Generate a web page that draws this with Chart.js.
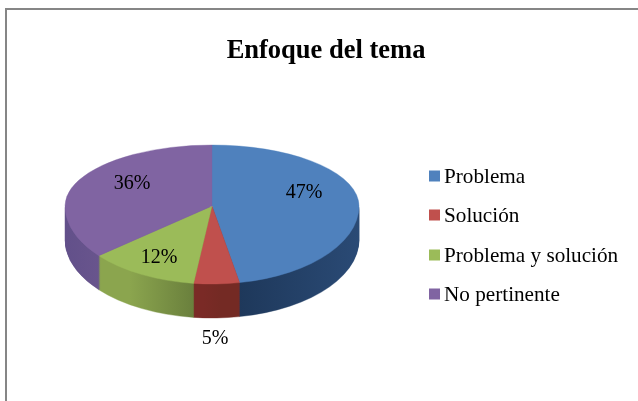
<!DOCTYPE html>
<html><head><meta charset="utf-8">
<script src="https://cdn.jsdelivr.net/npm/chart.js@4"></script>
<style>html,body{margin:0;padding:0;background:#fff}canvas{display:block}</style>
</head><body><div style="width:638px;height:401px"><canvas id="c" width="638" height="401"></canvas></div>
<script>
const titleText = 'Enfoque del tema';
const categories = ['Problema', 'Solución', 'Problema y solución', 'No pertinente'];
const shares = [47, 5, 12, 36];
const topColors = ['#4f81bd', '#c0504d', '#9bbb59', '#8064a2'];
const wallColors = [['#1c3556', '#2a4a75'], ['#7a2a26', '#742a24'], ['#8ba54e', '#657a3a'], ['#62508a', '#705a90']];
const wallSpans = [[0.52, 1], [0.47, 0.53], [0.22, 0.47], [0, 0.25]];
const labelSpots = [[304, 193], [215, 339], [159, 258], [132, 184]];
const legendRows = [176, 215, 255, 294];
const SERIF = '"Liberation Serif"';
const pie = {cx: 212, cy: 206, rx: 147, ryUp: 61, ryDown: 78, depth: 34};

function faceDraw(ctx, arcs, dy, half, fill) {
  const ref = arcs[0];
  const ratio = pie.rx / ref.outerRadius;
  ctx.save();
  ctx.beginPath();
  if (half === 'up') ctx.rect(0, 0, 638, pie.cy + dy);
  else ctx.rect(0, pie.cy + dy, 638, 401);
  ctx.clip();
  ctx.translate(pie.cx, pie.cy + dy);
  ctx.scale(ratio, (half === 'up' ? pie.ryUp : pie.ryDown) / ref.outerRadius);
  ctx.translate(-ref.x, -ref.y);
  arcs.forEach((arc, i) => {
    const keep = arc.options;
    arc.options = {backgroundColor: fill(i), borderColor: fill(i), borderWidth: 0.6, borderAlign: 'center',
      borderRadius: 0, spacing: 0, offset: 0, circular: true, borderDash: [], borderDashOffset: 0, borderJoinStyle: 'round', selfJoin: false};
    arc.draw(ctx);
    arc.options = keep;
  });
  ctx.restore();
}

const pie3d = {
  id: 'pie3d',
  beforeDraw(chart) {
    const ctx = chart.ctx;
    ctx.save();
    ctx.fillStyle = '#fff';
    ctx.fillRect(0, 0, 638, 401);
    ctx.strokeStyle = '#868686';
    ctx.lineWidth = 2;
    ctx.beginPath();
    ctx.moveTo(6, 401); ctx.lineTo(6, 9); ctx.lineTo(638, 9);
    ctx.stroke();
    ctx.restore();
  },
  beforeDatasetsDraw(chart) {
    const ctx = chart.ctx;
    const arcs = chart.getDatasetMeta(0).data;
    const x0 = arcs[0].x - arcs[0].outerRadius, w = arcs[0].outerRadius * 2;
    const wallGrads = wallColors.map(([a, b], i) => {
      const g = ctx.createLinearGradient(x0 + w * wallSpans[i][0], 0, x0 + w * wallSpans[i][1], 0);
      g.addColorStop(0, a); g.addColorStop(1, b);
      return g;
    });
    for (let d = pie.depth; d >= 1; d--) faceDraw(ctx, arcs, d, 'down', i => wallGrads[i]);
    faceDraw(ctx, arcs, 0, 'up', i => topColors[i]);
    faceDraw(ctx, arcs, 0, 'down', i => topColors[i]);
    return false;
  },
  afterDraw(chart) {
    const ctx = chart.ctx;
    ctx.save();
    ctx.fillStyle = '#000';
    ctx.font = '20px ' + SERIF;
    ctx.textAlign = 'center';
    ctx.textBaseline = 'middle';
    shares.forEach((v, i) => ctx.fillText(v + '%', labelSpots[i][0], labelSpots[i][1]));
    ctx.textAlign = 'left';
    ctx.font = '21.2px ' + SERIF;
    categories.forEach((name, i) => {
      ctx.fillStyle = topColors[i];
      ctx.fillRect(429, legendRows[i] - 5.5, 11, 11);
      ctx.fillStyle = '#000';
      ctx.fillText(name, 444, legendRows[i] + 1);
    });
    ctx.restore();
  }
};

new Chart(document.getElementById('c'), {
  type: 'pie',
  data: {labels: categories, datasets: [{data: shares, backgroundColor: topColors, borderWidth: 0}]},
  options: {
    responsive: false, animation: false,
    layout: {padding: {left: 14}},
    plugins: {
      legend: {display: false}, tooltip: {enabled: false},
      title: {display: true, text: titleText, color: '#000', padding: {top: 35, bottom: 0},
        font: {family: SERIF, size: 26.5, weight: 'bold', lineHeight: 1.2}}
    }
  },
  plugins: [pie3d]
});
</script></body></html>
